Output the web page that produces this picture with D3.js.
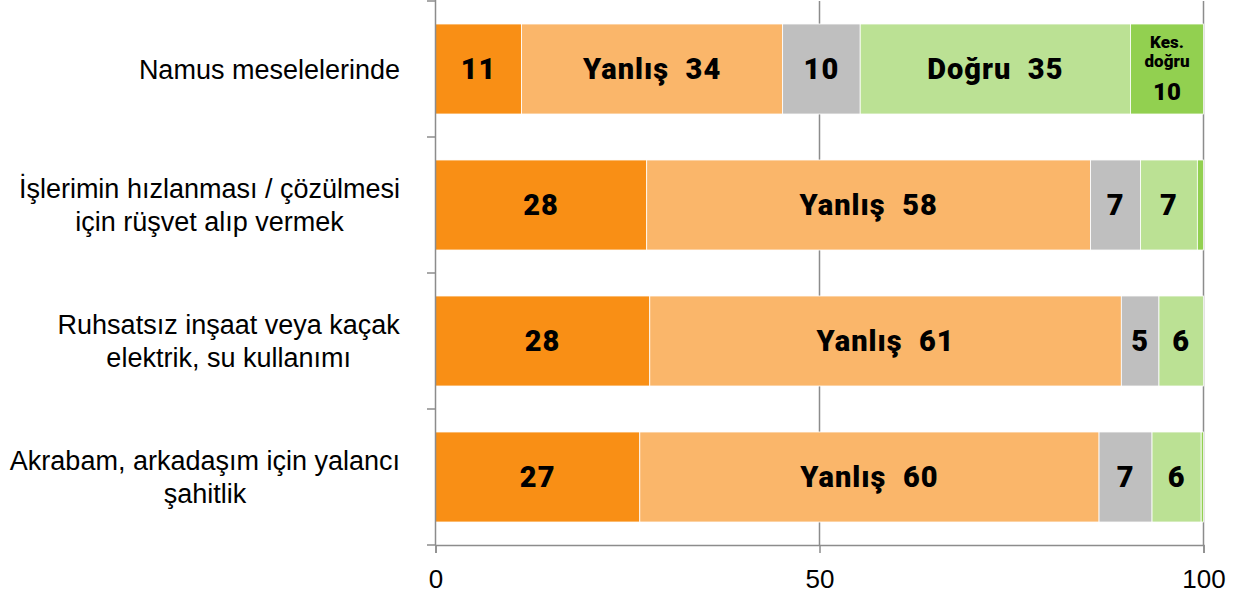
<!doctype html>
<html>
<head>
<meta charset="utf-8">
<script src="https://d3js.org/d3.v7.min.js"></script>
<style>
  body { margin: 0; background: #fff; }
  svg text { font-family: "Liberation Sans", Arial, sans-serif; }
  .cat { font-size: 27px; fill: #000; }
  .tick text { font-size: 26px; fill: #000; }
  .lbl { font-family: Roboto, "Liberation Sans", sans-serif; font-weight: 900; fill: #000; white-space: pre; }
</style>
</head>
<body>
<script>
// categories (top to bottom), each one split in the lines shown on the chart
var categories = [
  ["Namus meselelerinde"],
  ["İşlerimin hızlanması / çözülmesi", "için rüşvet alıp vermek"],
  ["Ruhsatsız inşaat veya kaçak", "elektrik, su kullanımı"],
  ["Akrabam, arkadaşım için yalancı", "şahitlik"]
];

// series values, percent
var kesinYanlis = [11.2, 27.5, 27.9, 26.6];
var yanlis      = [34.0, 57.8, 61.4, 59.8];
var bilmiyor    = [10.1, 6.5, 4.9, 6.9];
var dogru       = [35.2, 7.4, 5.8, 6.4];
var kesinDogru  = [9.5, 0.8, 0, 0.3];

// printed numbers on the bars
var kesinYanlisLbl = ["11", "28", "28", "27"];
var yanlisLbl      = ["Yanlış  34", "Yanlış  58", "Yanlış  61", "Yanlış  60"];
var bilmiyorLbl    = ["10", "7", "5", "7"];
var dogruLbl       = ["Doğru  35", "7", "6", "6"];
var kesinDogruLbl  = [["Kes.", "doğru", "10"], null, null, null];

var xTicks = [0, 50, 100];

var seriesNames = ["kesinYanlis", "yanlis", "bilmiyor", "dogru", "kesinDogru"];
var seriesVals  = [kesinYanlis, yanlis, bilmiyor, dogru, kesinDogru];
var seriesLbls  = [kesinYanlisLbl, yanlisLbl, bilmiyorLbl, dogruLbl, kesinDogruLbl];
var colors = ["#f98f15", "#fab66a", "#bfbfbf", "#bbe194", "#92d050"];

var W = 1248, H = 601;

var svg = d3.select("body").append("svg")
  .attr("width", W)
  .attr("height", H);

var x = d3.scaleLinear().domain([0, 100]).range([435.5, 1203.5]);
var y = d3.scaleBand()
  .domain(d3.range(categories.length))
  .range([1, 545])
  .paddingInner(0.338)
  .paddingOuter(0.169);

// build rows for d3.stack
var rows = categories.map(function(c, i) {
  var r = { i: i };
  seriesNames.forEach(function(s, k) { r[s] = seriesVals[k][i]; });
  return r;
});
var stacked = d3.stack().keys(seriesNames)(rows);

// gridlines
svg.append("g").selectAll("line")
  .data([50, 100])
  .join("line")
  .attr("x1", function(d) { return x(d); })
  .attr("x2", function(d) { return x(d); })
  .attr("y1", 1).attr("y2", 545)
  .attr("stroke", "#8c8c8c")
  .attr("stroke-width", 1.5);

// bars
var layer = svg.append("g").selectAll("g")
  .data(stacked)
  .join("g")
  .attr("fill", function(d, k) { return colors[k]; });

layer.selectAll("rect")
  .data(function(d) { return d; })
  .join("rect")
  .attr("x", function(d) { return x(d[0]); })
  .attr("width", function(d) { return Math.max(0, x(d[1]) - x(d[0])); })
  .attr("y", function(d) { return y(d.data.i); })
  .attr("height", y.bandwidth())
  .attr("stroke", "#fff")
  .attr("stroke-width", 0.8);

// y axis (left) with ticks between categories
var yAx = svg.append("g").attr("stroke", "#8c8c8c").attr("stroke-width", 1.5);
yAx.append("line").attr("x1", 435.5).attr("x2", 435.5).attr("y1", 0).attr("y2", 545);
yAx.selectAll(".yt")
  .data(d3.range(categories.length + 1))
  .join("line")
  .attr("class", "yt")
  .attr("x1", 427).attr("x2", 435.5)
  .attr("y1", function(i) { return i < categories.length ? y(i) - y.step() * y.paddingOuter() : 545; })
  .attr("y2", function(i) { return i < categories.length ? y(i) - y.step() * y.paddingOuter() : 545; });

// x axis
var xAxis = d3.axisBottom(x).tickValues(xTicks).tickSize(8).tickPadding(10);
var gx = svg.append("g")
  .attr("transform", "translate(0,545)")
  .call(xAxis);
gx.select(".domain").attr("stroke", "#8c8c8c").attr("stroke-width", 1.5);
gx.selectAll(".tick line").attr("stroke", "#8c8c8c").attr("stroke-width", 1.5);
gx.selectAll(".tick text").attr("dy", "0.95em");

// category labels: lines centered on each other, block right aligned
var catG = svg.append("g");
categories.forEach(function(lines, i) {
  var cy = y(i) + y.bandwidth() / 2;
  var lh = 33;
  var t = catG.append("text")
    .attr("class", "cat")
    .attr("text-anchor", "middle");
  lines.forEach(function(s, j) {
    t.append("tspan")
      .attr("x", 0)
      .attr("y", cy + (j - (lines.length - 1) / 2) * lh)
      .attr("dy", "0.36em")
      .text(s);
  });
  var bb = t.node().getBBox();
  t.attr("transform", "translate(" + (400 - bb.width / 2) + ",0)");
});

// bar labels
var lblG = svg.append("g");
stacked.forEach(function(ser, k) {
  ser.forEach(function(d, i) {
    var txt = seriesLbls[k][i];
    if (!txt) return;
    var cx = (x(d[0]) + x(d[1])) / 2;
    var cy = y(i) + y.bandwidth() / 2;
    if (Array.isArray(txt)) {
      lblG.append("text").attr("class", "lbl").attr("text-anchor", "middle")
        .attr("x", cx).attr("y", cy - 21).style("font-size", "17px").text(txt[0]);
      lblG.append("text").attr("class", "lbl").attr("text-anchor", "middle")
        .attr("x", cx).attr("y", cy - 2).style("font-size", "17px").text(txt[1]);
      lblG.append("text").attr("class", "lbl").attr("text-anchor", "middle")
        .attr("x", cx).attr("y", cy + 31).style("font-size", "24px").text(txt[2]);
    } else {
      lblG.append("text")
        .attr("class", "lbl")
        .attr("x", cx)
        .attr("y", cy)
        .attr("dy", "0.36em")
        .attr("text-anchor", "middle")
        .style("font-size", "29px")
        .style("letter-spacing", "1px")
        .text(txt);
    }
  });
});
</script>
</body>
</html>
